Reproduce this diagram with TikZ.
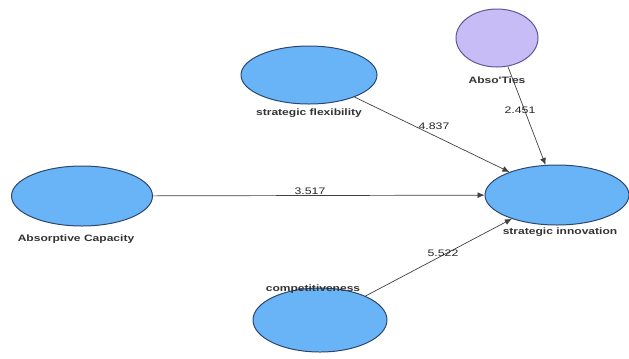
\documentclass[tikz,border=0pt]{standalone}
\usepackage{fontspec}
\setmainfont{Liberation Sans}
\newfontfamily\lblfont[FakeStretch=1.3]{Liberation Sans}
\usetikzlibrary{shapes.geometric,arrows.meta}
\definecolor{lvfill}{RGB}{104,180,246}
\definecolor{lvdraw}{RGB}{45,70,110}
\definecolor{pufill}{RGB}{200,188,246}
\definecolor{pudraw}{RGB}{95,85,155}
\tikzset{
  lv/.style={ellipse, draw=lvdraw, fill=lvfill, line width=1pt, inner sep=0pt},
  lvp/.style={ellipse, draw=pudraw, fill=pufill, line width=1pt, inner sep=0pt},
  lbl/.style={font=\lblfont\bfseries\fontsize{9.3}{11}\selectfont, text=black!80, inner sep=0pt},
  num/.style={font=\lblfont\fontsize{9.5}{11}\selectfont, text=black!85, inner sep=0pt},
  path/.style={draw=black!75, line width=0.7pt, -{Latex[length=7pt,width=6pt]}}
}
\begin{document}
\begin{tikzpicture}[x=1bp,y=-1bp]
\useasboundingbox (0,0) rectangle (629,358);
\node[lv, minimum width=136bp, minimum height=58bp] (sf) at (309,75) {};
\node[lvp, minimum width=82bp, minimum height=58bp] (at) at (497,38) {};
\node[lv, minimum width=141bp, minimum height=60bp] (ac) at (82,196) {};
\node[lv, minimum width=144bp, minimum height=60bp] (si) at (557,195) {};
\node[lv, minimum width=134bp, minimum height=64bp] (co) at (320,320) {};

\node[lbl] (sfl) at (309,113) {strategic flexibility};
\node[lbl] (atl) at (497,80) {Abso'Ties};
\node[lbl] (acl) at (76,239) {Absorptive Capacity};
\node[lbl] (sil) at (560,232) {strategic innovation};
\node[lbl] (col) at (313,289) {competitiveness};

\draw[path] (sf) -- (si);
\draw[path] (at) -- (si);
\draw[path] (ac) -- (si);
\draw[path] (co) -- (si);

\node[num] (n1) at (434,126) {4.837};
\node[num] (n2) at (520,110) {2.451};
\node[num] (n3) at (310,191) {3.517};
\node[num] (n4) at (443,253) {5.522};
\end{tikzpicture}
\end{document}
